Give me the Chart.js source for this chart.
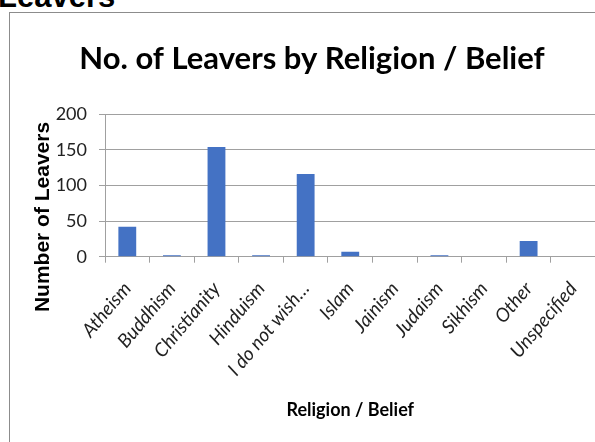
<!DOCTYPE html>
<html>
<head>
<meta charset="utf-8">
<script src="https://cdn.jsdelivr.net/npm/chart.js@4/dist/chart.umd.min.js"></script>
<style>
  html, body { margin: 0; padding: 0; width: 595px; height: 442px; overflow: hidden; background: #fff; }
  #top { position: absolute; left: -2px; top: -19px; font: bold 31px "Liberation Sans", Arial, sans-serif; line-height: 1; color: #000; white-space: nowrap; }
  #box { position: absolute; left: 9px; top: 12px; width: 587px; height: 440px; border-left: 1px solid #8c8c8c; border-top: 1px solid #8c8c8c; box-sizing: border-box; }
  canvas { display: block; }
</style>
</head>
<body>
<div id="top">Leavers</div>
<div id="box"><canvas id="c" width="586" height="439"></canvas></div>
<script>
const chartTitle = "No. of Leavers by Religion / Belief";
const xAxisTitle = "Religion / Belief";
const yAxisTitle = "Number of Leavers";
const categories = ["Atheism", "Buddhism", "Christianity", "Hinduism", "I do not wish\u2026", "Islam", "Jainism", "Judaism", "Sikhism", "Other", "Unspecified"];
const leavers = [42, 2, 154, 2, 116, 7, 0, 2, 0, 22, 0];
const yTicks = [0, 50, 100, 150, 200];

const yTitlePlugin = {
  id: 'yTitle',
  afterDraw(chart) {
    const ctx = chart.ctx;
    ctx.save();
    ctx.translate(33.5, 204);
    ctx.rotate(-Math.PI / 2);
    ctx.font = 'bold 21px "Liberation Sans", Arial, sans-serif';
    ctx.fillStyle = '#000';
    ctx.textAlign = 'center';
    ctx.textBaseline = 'middle';
    ctx.fillText(yAxisTitle, 0, 0);
    ctx.restore();
  }
};

new Chart(document.getElementById('c'), {
  type: 'bar',
  data: {
    labels: categories,
    datasets: [{
      data: leavers,
      backgroundColor: '#4472C4',
      borderWidth: 0,
      categoryPercentage: 1,
      barPercentage: 0.4
    }]
  },
  options: {
    responsive: false,
    animation: false,
    devicePixelRatio: 1,
    layout: { padding: { left: 18.5, right: 0.5, top: 0, bottom: 0 } },
    plugins: {
      legend: { display: false },
      tooltip: { enabled: false },
      title: {
        display: true,
        text: chartTitle,
        color: '#000',
        font: { family: 'Lato', size: 31, weight: 'bold', lineHeight: 1.2 },
        padding: { top: 27, bottom: 37.1 }
      }
    },
    scales: {
      x: {
        grid: { display: true, drawOnChartArea: false, drawTicks: true, tickLength: 6, offset: true, color: '#a0a0a0' },
        border: { color: '#a0a0a0' },
        ticks: {
          minRotation: 50, maxRotation: 50, padding: 15, autoSkip: false,
          color: '#222',
          font: { family: 'Lato', size: 19, style: 'italic' }
        },
        title: {
          display: true, text: xAxisTitle, color: '#000',
          font: { family: 'Lato', size: 18, weight: 'bold', lineHeight: 1.2 },
          padding: { top: 0, bottom: 31.2 }
        },
        afterFit(s) { s.height = 195.3; s.paddingLeft = 0; s.paddingRight = 0; }
      },
      y: {
        min: 0, max: 200,
        afterBuildTicks(s) { s.ticks = yTicks.map(v => ({ value: v })); },
        grid: { color: '#a0a0a0', tickLength: 6, drawTicks: true },
        border: { color: '#a0a0a0' },
        ticks: { padding: 12, color: '#222', font: { family: 'Lato', size: 18 } },
        afterFit(s) { s.width = 76.5; }
      }
    }
  },
  plugins: [yTitlePlugin]
});
</script>
</body>
</html>
